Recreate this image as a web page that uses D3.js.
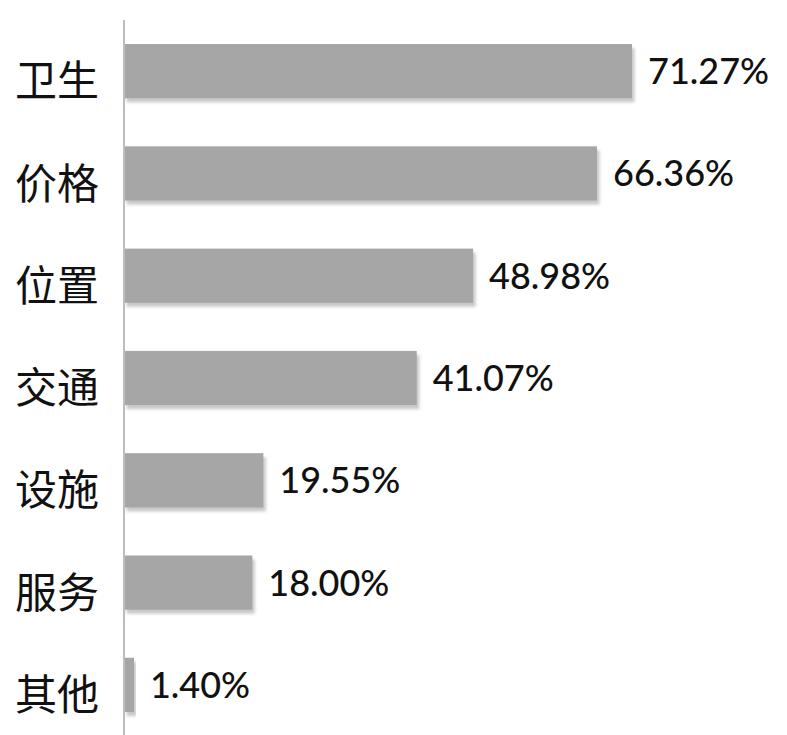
<!DOCTYPE html>
<html>
<head>
<meta charset="utf-8">
<script src="https://cdn.jsdelivr.net/npm/d3@7"></script>
<style>
  body { margin: 0; background: #fff; }
</style>
</head>
<body>
<div id="chart"></div>
<script>
// data
var categories = ["卫生", "价格", "位置", "交通", "设施", "服务", "其他"];
var values = [71.27, 66.36, 48.98, 41.07, 19.55, 18.00, 1.40];
var valueLabels = ["71.27%", "66.36%", "48.98%", "41.07%", "19.55%", "18.00%", "1.40%"];

var width = 787, height = 735;
var axisX = 124;

var svg = d3.select("#chart")
    .append("svg")
    .attr("width", width)
    .attr("height", height);

// shadow under the bars
var defs = svg.append("defs");
var f = defs.append("filter")
    .attr("id", "shadow")
    .attr("x", "-10%").attr("y", "-20%")
    .attr("width", "130%").attr("height", "150%");
f.append("feDropShadow")
    .attr("dx", 2.5)
    .attr("dy", 4)
    .attr("stdDeviation", 1.5)
    .attr("flood-color", "#b0b0b0")
    .attr("flood-opacity", 0.7);

//x scale
var xScale = d3.scaleLinear()
    .domain([0, 71.27])
    .range([axisX, 632]);

//y scale
var yScale = d3.scaleBand()
    .domain(categories)
    .range([20, 736])
    .paddingInner(0.47)
    .paddingOuter(0.235);

//draw bars
svg.selectAll(".bar")
    .data(categories)
    .enter()
    .append("rect")
    .attr("class", "bar")
    .attr("x", xScale(0))
    .attr("y", function (d) { return yScale(d); })
    .attr("width", function (d, i) { return xScale(values[i]) - xScale(0); })
    .attr("height", yScale.bandwidth())
    .attr("fill", "#a6a6a6")
    .attr("filter", "url(#shadow)");

//axis line
svg.append("line")
    .attr("x1", axisX)
    .attr("x2", axisX)
    .attr("y1", 20)
    .attr("y2", height)
    .attr("stroke", "#bdbdbd")
    .attr("stroke-width", 2);

//category labels
svg.selectAll(".cat")
    .data(categories)
    .enter()
    .append("text")
    .attr("class", "cat")
    .attr("x", 99)
    .attr("y", function (d) { return yScale(d) + yScale.bandwidth() / 2 + 10; })
    .attr("dy", "0.36em")
    .attr("text-anchor", "end")
    .attr("font-family", "'Noto Sans CJK SC', sans-serif")
    .attr("font-size", 42)
    .attr("fill", "#111")
    .text(function (d) { return d; });

//value labels
svg.selectAll(".val")
    .data(categories)
    .enter()
    .append("text")
    .attr("class", "val")
    .attr("x", function (d, i) { return xScale(values[i]) + 16; })
    .attr("y", function (d) { return yScale(d) + yScale.bandwidth() / 2; })
    .attr("dy", "0.36em")
    .attr("font-family", "Lato, 'Open Sans', sans-serif")
    .attr("font-size", 36)
    .attr("font-weight", 500)
    .attr("fill", "#111")
    .text(function (d, i) { return valueLabels[i]; });
</script>
</body>
</html>
